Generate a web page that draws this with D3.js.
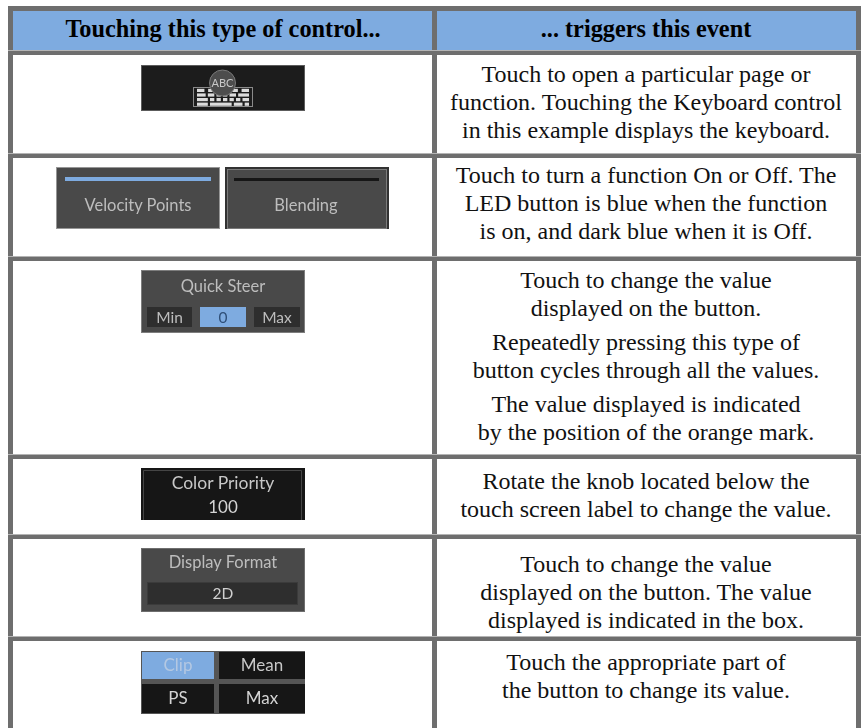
<!doctype html>
<html>
<head>
<meta charset="UTF-8">
<script src="https://d3js.org/d3.v7.min.js"></script>
<style>
  html, body { margin: 0; padding: 0; background: #fff; overflow: hidden; }
  svg { display: block; }
  .cell { font-family: "Liberation Serif", serif; font-size: 24px; fill: #111; text-anchor: middle; }
  .head { font-family: "Liberation Serif", serif; font-size: 24.3px; font-weight: bold; fill: #000; text-anchor: middle; }
  .btn { font-family: Lato, sans-serif; text-anchor: middle; }
</style>
</head>
<body>
<script>
// table content
const headers = ["Touching this type of control...", "... triggers this event"];
const descriptions = [
  [["Touch to open a particular page or", "function. Touching the Keyboard control", "in this example displays the keyboard."]],
  [["Touch to turn a function On or Off. The", "LED button is blue when the function", "is on, and dark blue when it is Off."]],
  [["Touch to change the value", "displayed on the button."],
   ["Repeatedly pressing this type of", "button cycles through all the values."],
   ["The value displayed is indicated", "by the position of the orange mark."]],
  [["Rotate the knob located below the", "touch screen label to change the value."]],
  [["Touch to change the value", "displayed on the button. The value", "displayed is indicated in the box."]],
  [["Touch the appropriate part of", "the button to change its value."]]
];
// keyboard icon: key widths per row, 0 is a gap
const keyRows = [
  [2, 1, 2, 1, 0, 0, 0, 0, 2, 1, 2, 1, 2],
  [4, 1, 3, 1, 2, 1, 2, 1, 3, 1, 5],
  [5, 1, 2, 1, 2, 1, 2, 1, 2, 1, 2, 1, 3],
  [5, 1, 10, 1, 4, 1, 2]
];

const blue = "#7eabe0", rule = "#6e6e6e", ruleLight = "#b4b4b4";
const W = 862, H = 728;

const ruleW = 5;
const rowTops = [55, 158, 261, 459, 539, 641];
const firstBase = [82, 183, 288, 489, 572, 670];

const svg = d3.select("body").append("svg").attr("width", W).attr("height", H);
const defs = svg.append("defs");
defs.append("filter").attr("id", "soft").append("feGaussianBlur").attr("stdDeviation", 0.35);

// header band
const colX = d3.scaleOrdinal().domain(headers).range([13, 436]);
const colW = d3.scaleOrdinal().domain(headers).range([420, 420]);
svg.selectAll("rect.band").data(headers).enter().append("rect")
  .attr("class", "band")
  .attr("x", d => colX(d)).attr("y", 11)
  .attr("width", d => colW(d)).attr("height", 41)
  .attr("fill", blue);
svg.selectAll("text.head").data(headers).enter().append("text")
  .attr("class", "head")
  .attr("x", d => colX(d) + colW(d) / 2).attr("y", 37)
  .text(d => d);

// rules
svg.append("rect").attr("x", 8).attr("y", 6).attr("width", 853).attr("height", 5).attr("fill", rule);
[8, 432, 856].forEach(x => {
  svg.append("rect").attr("x", x).attr("y", 6).attr("width", ruleW).attr("height", H - 6).attr("fill", rule);
});
rowTops.forEach(y => {
  svg.append("rect").attr("x", 8).attr("y", y - 4).attr("width", 853).attr("height", 4).attr("fill", rule);
  svg.append("rect").attr("x", 8).attr("y", y - 5).attr("width", 853).attr("height", 1).attr("fill", ruleLight);
});

// description column
const lineH = 28, paraGap = 6;
descriptions.forEach((paras, r) => {
  let y = firstBase[r];
  paras.forEach(lines => {
    svg.selectAll(null).data(lines).enter().append("text")
      .attr("class", "cell")
      .attr("x", 646)
      .attr("y", (d, i) => y + i * lineH)
      .text(d => d);
    y += lines.length * lineH + paraGap;
  });
});

// control buttons
const art = svg.append("g").attr("filter", "url(#soft)");

function box(x0, y0, x1, y1, fill, stroke) {
  const b = art.append("rect").attr("x", x0).attr("y", y0)
    .attr("width", x1 - x0).attr("height", y1 - y0).attr("fill", fill);
  if (stroke) b.attr("x", x0 + 0.5).attr("y", y0 + 0.5)
    .attr("width", x1 - x0 - 1).attr("height", y1 - y0 - 1)
    .attr("stroke", stroke).attr("stroke-width", 1);
  return b;
}
function label(s, x, y, size, col) {
  return art.append("text").attr("class", "btn").attr("x", x).attr("y", y)
    .attr("font-size", size).attr("fill", col || "#bdbdbd").text(s);
}

// keyboard button
box(141, 65, 305, 111, "#1a1a1a", "#5c5c5c");
box(193, 87, 253, 107, "#1a1a1a", "#8a8a8a");
const keyH = 3.2, keyGap = 1.4, keyTop = 88.8;
keyRows.forEach((row, r) => {
  const total = d3.sum(row);
  const kx = d3.scaleLinear().domain([0, total]).range([197, 249]);
  let pos = 0;
  row.forEach((w, i) => {
    if (w > 0 && i % 2 === 0) {
      art.append("rect").attr("x", kx(pos)).attr("y", keyTop + r * (keyH + keyGap))
        .attr("width", kx(pos + w) - kx(pos)).attr("height", keyH).attr("fill", "#dcdcdc");
    }
    pos += w;
  });
});
art.append("circle").attr("cx", 222.5).attr("cy", 83).attr("r", 13)
  .attr("fill", "#4d4d4d").attr("stroke", "#7a7a7a").attr("stroke-width", 1);
label("ABC", 222.5, 87, 11, "#c8c8c8");

// LED buttons
box(56, 167, 220, 229, "#4a4a4a", "#969696");
box(65, 177, 211, 181, blue);
label("Velocity Points", 138, 211, 16.5, "#bdbdbd");
box(225, 167, 389, 229, "#333", null);
box(227, 169, 387, 229, "#4a4a4a", "#7a7a7a");
box(234, 178, 379, 181, "#161616");
label("Blending", 306, 211, 16.5, "#bdbdbd");

// quick steer
box(141, 270, 305, 333, "#4a4a4a", "#7e7e7e");
label("Quick Steer", 223, 292, 16.5);
box(147, 307, 192, 327, "#2f2f2f");
box(200, 307, 246, 327, blue);
box(254, 307, 300, 327, "#2f2f2f");
label("Min", 169.5, 323, 15.5);
label("0", 223, 323, 15.5, "#2f4f78");
label("Max", 277, 323, 15.5);

// color priority, cropped at the bottom edge
box(141, 468, 305, 520, "#151515");
art.append("path").attr("d", "M143.5 520V470.5H301.5V520").attr("fill", "none").attr("stroke", "#444");
label("Color Priority", 223, 489, 17.5, "#c8c8c8");
label("100", 223, 513, 17, "#d4d4d4");

// display format
box(141, 548, 305, 612, "#4a4a4a", "#6e6e6e");
label("Display Format", 223, 568, 16.5, "#bdbdbd");
box(147, 582, 298, 605, "#2e2e2e", "#3a3a3a");
label("2D", 223, 599, 15.5, "#d0d0d0");

// four part button
box(141, 651, 305, 714, "#555");
box(142, 652, 214, 679, blue);
box(219, 652, 305, 679, "#151515");
box(142, 684, 214, 713, "#151515");
box(219, 684, 305, 713, "#151515");
label("Clip", 178, 671, 17, "#b4c8e2");
label("Mean", 262, 671, 17, "#c8c8c8");
label("PS", 178, 704, 17, "#d4d4d4");
label("Max", 262, 704, 17, "#d4d4d4");
</script>
</body>
</html>
